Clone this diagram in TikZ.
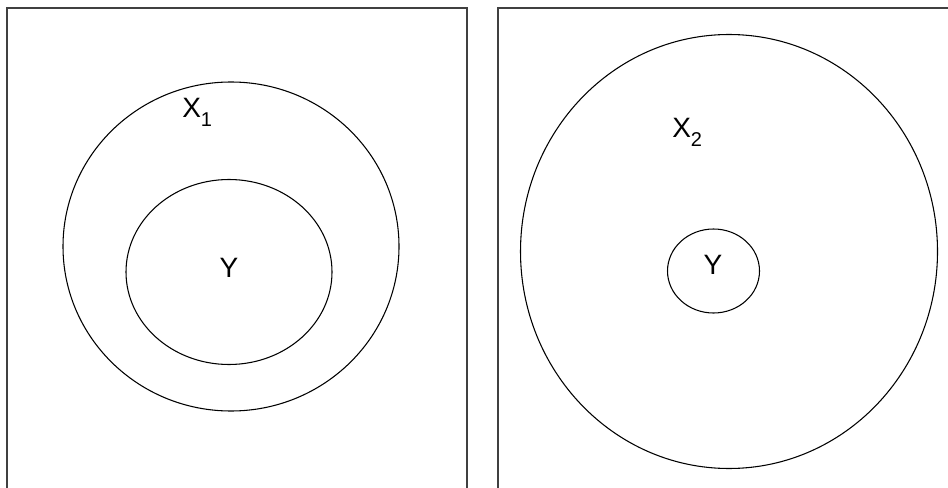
\documentclass[tikz,border=0pt]{standalone}
\usepackage{fontspec}
\setmainfont{Liberation Sans}
\tikzset{
  frame/.style={draw=black!75, line width=1.3pt},
  ring/.style={draw=black, line width=0.8pt},
  lbl/.style={inner sep=0pt, font=\fontsize{21}{25}\selectfont},
}
\newcommand{\subn}[1]{\raisebox{-0.3em}{\fontsize{15}{15}\selectfont #1}}
\begin{document}
\begin{tikzpicture}[x=0.75pt, y=-0.75pt]
\useasboundingbox (0,0) rectangle (948,488);
\begin{scope}
\clip (0,0) rectangle (948,488);
\draw[frame] (7,8) rectangle (467,520);
\draw[frame] (498,8) rectangle (980,520);
\end{scope}
% left
\draw[ring] (231,246.5) ellipse [x radius=168, y radius=164.5];
\draw[ring] (229,272) ellipse [x radius=103, y radius=92.5];
\node[lbl, anchor=base west] (x1) at (182,118) {X\subn{1}};
\node[lbl] (y1) at (229,268) {Y};
% right
\draw[ring] (729,251.5) ellipse [x radius=208.5, y radius=217];
\draw[ring] (713.5,271) ellipse [x radius=46, y radius=42];
\node[lbl, anchor=base west] (x2) at (672,138) {X\subn{2}};
\node[lbl] (y2) at (713,265) {Y};
\end{tikzpicture}
\end{document}
